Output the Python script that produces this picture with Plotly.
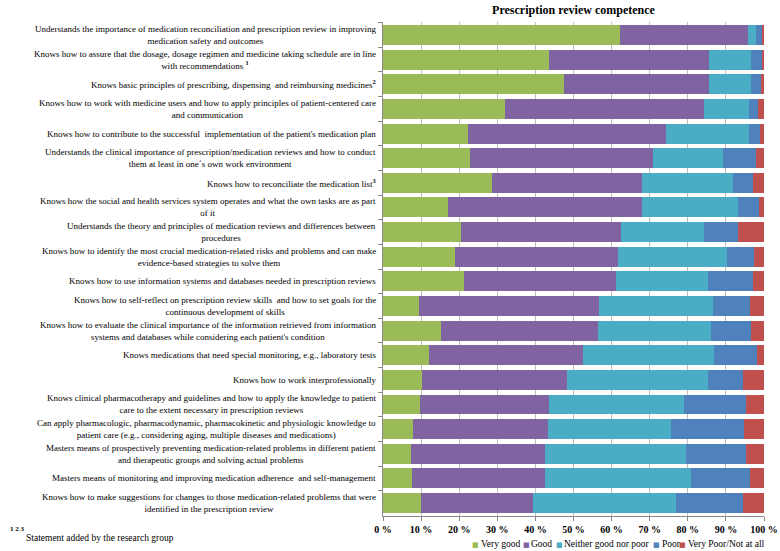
import plotly.graph_objects as go

statements = [
    "Understands the importance of medication reconciliation and prescription review in improving<br>medication safety and outcomes",
    "Knows how to assure that the dosage, dosage regimen and medicine taking schedule are in line<br>with recommendations <b><sup>1</sup></b>",
    "Knows basic principles of prescribing, dispensing  and reimbursing medicines<b><sup>2</sup></b>",
    "Knows how to work with medicine users and how to apply principles of patient-centered care<br>and communication",
    "Knows how to contribute to the successful  implementation of the patient's medication plan",
    "Understands the clinical importance of prescription/medication reviews and how to conduct<br>them at least in one´s own work environment",
    "Knows how to reconciliate the medication list<b><sup>3</sup></b>",
    "Knows how the social and health services system operates and what the own tasks are as part<br>of it",
    "Understands the theory and principles of medication reviews and differences between<br>procedures",
    "Knows how to identify the most crucial medication-related risks and problems and can make<br>evidence-based strategies to solve them",
    "Knows how to use information systems and databases needed in prescription reviews",
    "Knows how to self-reflect on prescription review skills  and how to set goals for the<br>continuous development of skills",
    "Knows how to evaluate the clinical importance of the information retrieved from information<br>systems and databases while considering each patient's condition",
    "Knows medications that need special monitoring, e.g., laboratory tests",
    "Knows how to work interprofessionally",
    "Knows clinical pharmacotherapy and guidelines and how to apply the knowledge to patient<br>care to the extent necessary in prescription reviews",
    "Can apply pharmacologic, pharmacodynamic, pharmacokinetic and physiologic knowledge to<br>patient care (e.g., considering aging, multiple diseases and medications)",
    "Masters means of prospectively preventing medication-related problems in different patient<br>and therapeutic groups and solving actual problems",
    "Masters means of monitoring and improving medication adherence  and self-management",
    "Knows how to make suggestions for changes to those medication-related problems that were<br>identified in the prescription review",
]

# percentages, one value per statement
very_good = [62.2, 43.5, 47.4, 31.9, 22.2, 22.9, 28.7, 17.0, 20.5, 19.0,
             21.2, 9.5, 15.3, 12.0, 10.3, 9.8, 7.9, 7.4, 7.7, 10.1]
good = [33.5, 42.1, 38.2, 52.3, 52.2, 47.9, 39.2, 51.0, 41.9, 42.8,
        40.0, 47.1, 41.0, 40.6, 37.9, 33.7, 35.4, 35.1, 34.8, 29.2]
neither = [2.3, 11.0, 11.0, 11.8, 21.6, 18.4, 23.9, 25.3, 21.8, 28.5,
           24.0, 30.0, 29.8, 34.4, 37.0, 35.4, 32.2, 36.9, 38.3, 37.6]
poor = [1.4, 2.8, 2.6, 2.3, 2.9, 8.6, 5.4, 5.4, 9.1, 7.0,
        12.0, 9.6, 10.5, 11.2, 9.4, 16.4, 19.3, 15.9, 15.4, 17.7]
very_poor = [0.6, 0.6, 0.8, 1.7, 1.1, 2.2, 2.8, 1.3, 6.7, 2.7,
             2.8, 3.8, 3.4, 1.8, 5.4, 4.7, 5.2, 4.7, 3.8, 5.4]

series_names = ["Very good", "Good", "Neither good nor poor", "Poor", "Very Poor/Not at all"]
series_values = [very_good, good, neither, poor, very_poor]
colors = ["#9BBB59", "#8064A2", "#4BACC6", "#4F81BD", "#C0504D"]

tick_vals = [0, 10, 20, 30, 40, 50, 60, 70, 80, 90, 100]
tick_labels = ["0 %", "10 %", "20 %", "30 %", "40 %", "50 %", "60 %", "70 %", "80 %", "90 %", "100 %"]

SERIF = "Liberation Serif, Times New Roman, serif"

fig = go.Figure()
for name, vals, col in zip(series_names, series_values, colors):
    fig.add_trace(go.Bar(
        name=name,
        y=statements,
        x=vals,
        orientation="h",
        marker=dict(color=col, line=dict(width=0)),
    ))

# statement labels as annotations so wrapped lines stay centred
for s in statements:
    fig.add_annotation(
        text=s, x=0, y=s, xref="paper", yref="y",
        xanchor="right", yanchor="middle", xshift=-5,
        showarrow=False, align="center",
        font=dict(family=SERIF, size=9, color="black"),
    )

# footnote
fig.add_annotation(
    text="<b>1 2 3</b>", x=-0.985, y=-0.027, xref="paper", yref="paper",
    xanchor="left", yanchor="middle", showarrow=False,
    font=dict(family=SERIF, size=7, color="black"),
)
fig.add_annotation(
    text="Statement added by the research group",
    x=-0.942, y=-0.045, xref="paper", yref="paper",
    xanchor="left", yanchor="middle", showarrow=False,
    font=dict(family=SERIF, size=9.5, color="black"),
)

# compact Excel-style legend along the bottom right (swatch + label)
swatch_x = [0.243, 0.376, 0.462, 0.718, 0.787]
label_x = [0.251, 0.384, 0.470, 0.726, 0.795]
for name, col, sx, lx in zip(series_names, colors, swatch_x, label_x):
    fig.add_annotation(
        text="■", x=sx, y=-0.058, xref="paper", yref="paper",
        xanchor="center", yanchor="middle", showarrow=False,
        font=dict(family="DejaVu Sans", size=7, color=col),
    )
    fig.add_annotation(
        text=name, x=lx, y=-0.057, xref="paper", yref="paper",
        xanchor="left", yanchor="middle", showarrow=False,
        font=dict(family=SERIF, size=9.5, color="black"),
    )

fig.update_layout(
    width=780, height=551,
    margin=dict(l=383, r=16, t=22, b=35, autoexpand=False),
    barmode="stack",
    bargap=0.19,
    showlegend=False,
    plot_bgcolor="white",
    paper_bgcolor="white",
    font=dict(family=SERIF, size=10, color="black"),
    title=dict(
        text="<b>Prescription review competence</b>",
        x=0.5, xref="paper", y=0.982, yref="container", yanchor="middle",
        font=dict(family=SERIF, size=12, color="black"),
    ),
    xaxis=dict(
        range=[0, 100], tickvals=tick_vals, ticktext=tick_labels,
        showgrid=True, gridcolor="#BFBFBF", gridwidth=1,
        showline=True, linecolor="#888888", ticks="outside", ticklen=4,
        tickcolor="#888888", zeroline=False,
        tickfont=dict(family=SERIF, size=10, weight="bold"),
    ),
    yaxis=dict(
        autorange="reversed", showticklabels=False,
        showline=True, linecolor="#888888", ticks="outside", ticklen=4,
        tickson="boundaries", tickcolor="#888888", showgrid=False,
    ),
)

# page body has an 8px default margin; drop it so the chart fills the window
fig.write_html("out.html", config={"displayModeBar": False},
               post_script="document.body.style.margin='0';")
